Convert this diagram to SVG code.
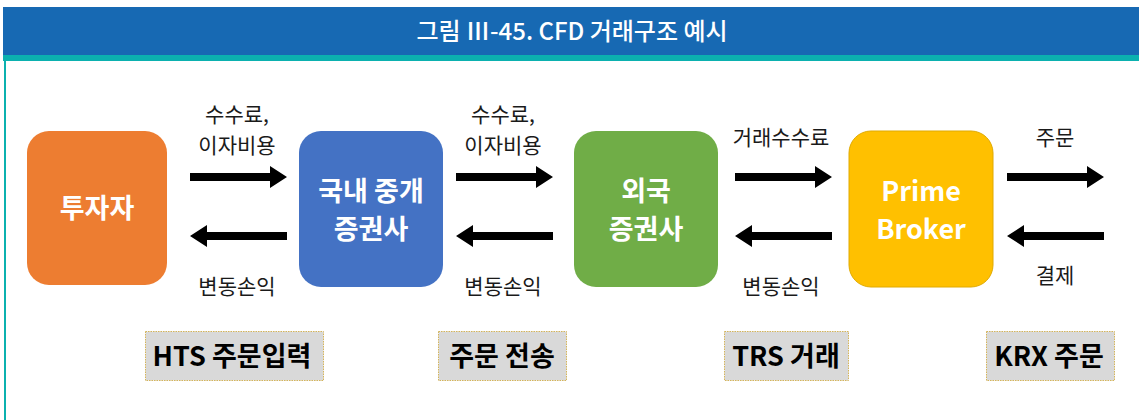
<svg xmlns="http://www.w3.org/2000/svg" width="1139" height="420" viewBox="0 0 1139 420">
<defs>
<style>
.node text{font-family:"Noto Sans CJK KR","Noto Sans",sans-serif;font-size:27px;font-weight:bold;fill:#fff;text-anchor:middle}
.lbl{font-family:"Noto Sans CJK KR","Noto Sans",sans-serif;font-size:21px;fill:#1a1a1a;text-anchor:middle}
.tag rect{fill:#D9D9D9;stroke:#D4B45A;stroke-width:1;stroke-dasharray:1.5 1}
.tag text{font-family:"Noto Sans CJK KR","Noto Sans",sans-serif;font-size:27px;font-weight:bold;fill:#000;text-anchor:middle}
.arr{fill:#000}
</style>
<path id="ra" d="M0,-4 L80,-4 L80,-11 L97,0 L80,11 L80,4 L0,4 Z"/>
<path id="la" d="M97,-4 L17,-4 L17,-11 L0,0 L17,11 L17,4 L97,4 Z"/>
</defs>
<rect width="1139" height="420" fill="#fff"/>
<g id="title">
<rect x="3" y="7" width="1136" height="48" fill="#1769B3"/>
<rect x="3" y="55" width="1136" height="6" fill="#0BB1AF"/>
<rect x="4" y="61" width="2" height="359" fill="#0BB1AF"/>
<text x="572" y="40" font-family="'Noto Sans CJK KR','Noto Sans',sans-serif" font-size="24" font-weight="500" fill="#fff" text-anchor="middle">그림 Ⅲ-45. CFD 거래구조 예시</text>
</g>
<g id="n1" class="node">
<rect x="27" y="131" width="140" height="154" rx="22" fill="#ED7D31"/>
<text x="97" y="218">투자자</text>
</g>
<g id="n2" class="node">
<rect x="299" y="131" width="144" height="156" rx="22" fill="#4472C4"/>
<text x="371" y="201">국내 중개</text>
<text x="371" y="239">증권사</text>
</g>
<g id="n3" class="node">
<rect x="574" y="131" width="144" height="156" rx="22" fill="#70AD47"/>
<text x="646" y="201">외국</text>
<text x="646" y="239">증권사</text>
</g>
<g id="n4" class="node">
<rect x="849" y="131" width="144" height="156" rx="22" fill="#FFC000" stroke="#E0AA00" stroke-width="1"/>
<text x="921" y="201">Prime</text>
<text x="921" y="239">Broker</text>
</g>
<g id="connectors" class="arr">
<use href="#ra" x="190" y="177"/>
<use href="#la" x="190" y="236"/>
<use href="#ra" x="456" y="177"/>
<use href="#la" x="456" y="236"/>
<use href="#ra" x="735" y="177"/>
<use href="#la" x="735" y="236"/>
<use href="#ra" x="1007" y="177"/>
<use href="#la" x="1007" y="236"/>
</g>
<g id="labels">
<text class="lbl" x="237" y="122">수수료,</text>
<text class="lbl" x="237" y="153">이자비용</text>
<text class="lbl" x="237" y="294">변동손익</text>
<text class="lbl" x="503" y="122">수수료,</text>
<text class="lbl" x="503" y="153">이자비용</text>
<text class="lbl" x="503" y="294">변동손익</text>
<text class="lbl" x="781" y="145">거래수수료</text>
<text class="lbl" x="781" y="294">변동손익</text>
<text class="lbl" x="1055" y="145">주문</text>
<text class="lbl" x="1055" y="283">결제</text>
</g>
<g id="t1" class="tag">
<rect x="145.5" y="331.5" width="178" height="49"/>
<text x="232" y="366">HTS 주문입력</text>
</g>
<g id="t2" class="tag">
<rect x="438.5" y="331.5" width="128" height="49"/>
<text x="502" y="366">주문 전송</text>
</g>
<g id="t3" class="tag">
<rect x="724.5" y="331.5" width="124" height="49"/>
<text x="786" y="366">TRS 거래</text>
</g>
<g id="t4" class="tag">
<rect x="986.5" y="331.5" width="128" height="49"/>
<text x="1049" y="366">KRX 주문</text>
</g>
</svg>
